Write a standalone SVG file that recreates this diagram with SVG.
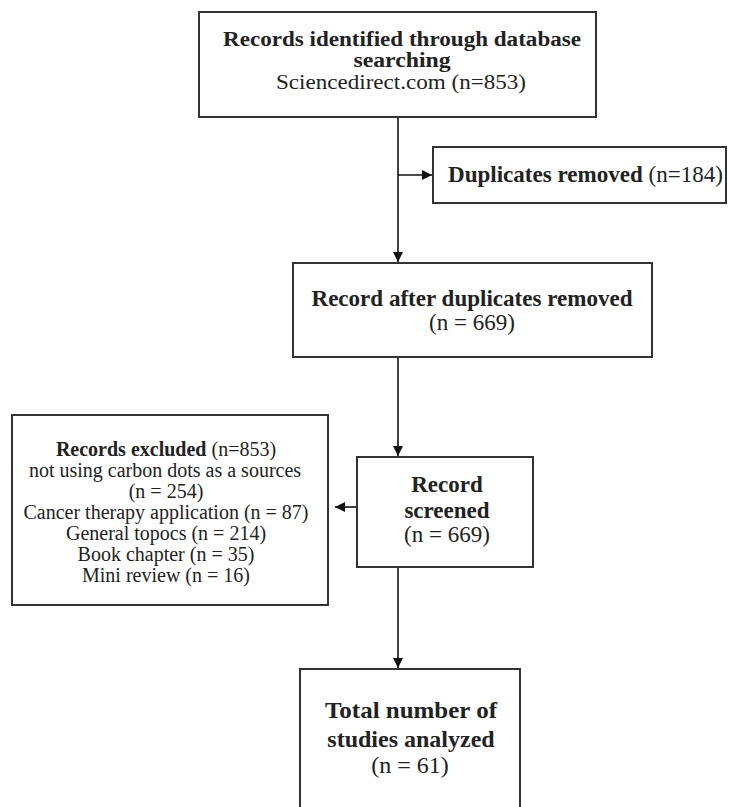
<svg xmlns="http://www.w3.org/2000/svg" width="730" height="807" viewBox="0 0 730 807">
<style>
.box{fill:#fff;stroke:#333;stroke-width:2}
.t{font-family:"Liberation Serif","Times New Roman",serif;fill:#222;text-anchor:middle}
.b{font-weight:bold}
.c{stroke:#111;stroke-width:1.6;fill:none}
</style>
<defs>
<marker id="ah" markerUnits="userSpaceOnUse" markerWidth="10" markerHeight="10" viewBox="0 0 10 10" refX="10" refY="5" orient="auto">
<path d="M0,0 L10,5 L0,10 z" fill="#111"/>
</marker>
</defs>
<rect width="730" height="807" fill="#fff"/>
<g id="connectors">
<line class="c" x1="398" y1="117" x2="398" y2="262" marker-end="url(#ah)"/>
<line class="c" x1="398" y1="175" x2="432" y2="175" marker-end="url(#ah)"/>
<line class="c" x1="398" y1="357" x2="398" y2="456" marker-end="url(#ah)"/>
<line class="c" x1="356" y1="507" x2="335" y2="507" marker-end="url(#ah)"/>
<line class="c" x1="398" y1="567" x2="398" y2="668" marker-end="url(#ah)"/>
</g>
<g id="identified">
<rect class="box" x="199" y="12" width="397" height="105"/>
<text class="t b" x="402" y="46" font-size="20" textLength="358" lengthAdjust="spacingAndGlyphs">Records identified through database</text>
<text class="t b" x="402" y="67" font-size="20" textLength="97" lengthAdjust="spacingAndGlyphs">searching</text>
<text class="t" x="401" y="89" font-size="20" textLength="250" lengthAdjust="spacingAndGlyphs">Sciencedirect.com (n=853)</text>
</g>
<g id="duplicates">
<rect class="box" x="433" y="147" width="293" height="56"/>
<text class="t" x="585.5" y="182" font-size="23" textLength="275" lengthAdjust="spacingAndGlyphs"><tspan class="b">Duplicates removed</tspan> (n=184)</text>
</g>
<g id="after">
<rect class="box" x="293" y="263" width="359" height="94"/>
<text class="t b" x="472" y="306" font-size="23" textLength="321" lengthAdjust="spacingAndGlyphs">Record after duplicates removed</text>
<text class="t" x="472" y="330" font-size="23">(n = 669)</text>
</g>
<g id="screened">
<rect class="box" x="357" y="457" width="176" height="110"/>
<text class="t b" x="447" y="492" font-size="23">Record</text>
<text class="t b" x="447" y="518" font-size="23">screened</text>
<text class="t" x="447" y="542" font-size="23">(n = 669)</text>
</g>
<g id="excluded">
<rect class="box" x="12" y="415" width="316" height="190"/>
<text class="t" x="166" y="456" font-size="20"><tspan class="b">Records excluded</tspan> (n=853)</text>
<text class="t" x="165" y="477" font-size="20">not using carbon dots as a sources</text>
<text class="t" x="166" y="498" font-size="20">(n = 254)</text>
<text class="t" x="166" y="519" font-size="20">Cancer therapy application (n = 87)</text>
<text class="t" x="166" y="540" font-size="20">General topocs (n = 214)</text>
<text class="t" x="166" y="561" font-size="20">Book chapter (n = 35)</text>
<text class="t" x="166" y="582" font-size="20">Mini review (n = 16)</text>
</g>
<g id="total">
<rect class="box" x="300" y="669" width="220" height="160"/>
<text class="t b" x="411" y="718" font-size="24" textLength="172" lengthAdjust="spacingAndGlyphs">Total number of</text>
<text class="t b" x="411" y="747" font-size="24">studies analyzed</text>
<text class="t" x="410" y="773" font-size="24">(n = 61)</text>
</g>
</svg>
